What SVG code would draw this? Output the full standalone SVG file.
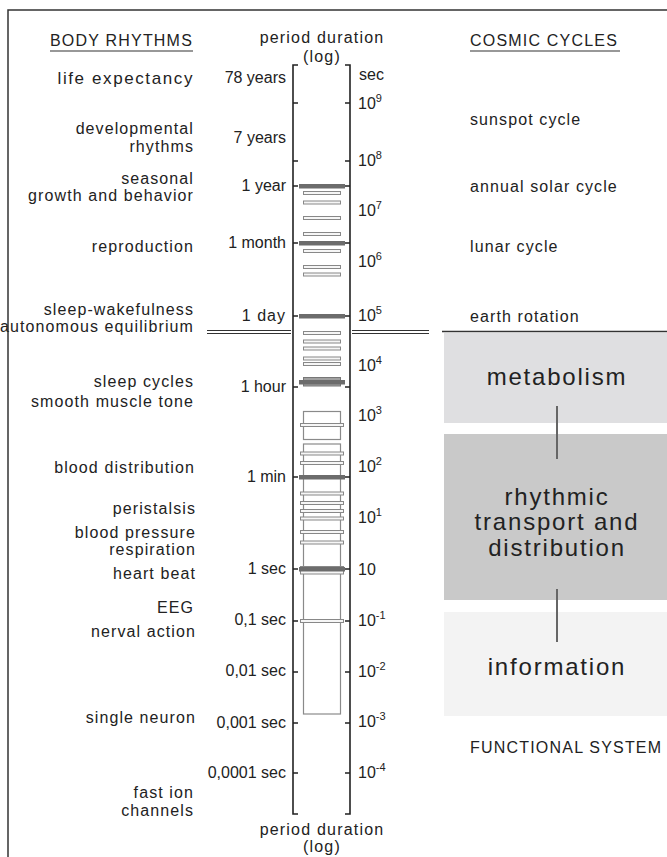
<svg xmlns="http://www.w3.org/2000/svg" width="667" height="857" viewBox="0 0 667 857">
  <style>
    text { font-family: "Liberation Sans", Arial, sans-serif; fill: #222; }
    .lbl { font-size: 16px; letter-spacing: 1.1px; }
    .lft { text-anchor: end; }
    .num { font-size: 16px; text-anchor: end; }
    .sc { font-size: 16px; }
    .sup { font-size: 11px; }
    .hdr { font-size: 16px; letter-spacing: 1.2px; }
    .big { font-size: 24px; letter-spacing: 1.8px; text-anchor: middle; }
    .frame { fill: none; stroke: #333; stroke-width: 1.5; }
    .axis { fill: none; stroke: #222; stroke-width: 1.6; }
    .bar { fill: #f6f6f6; stroke: #888; stroke-width: 1; }
    .dark { fill: #6c6c6c; stroke: none; }
    .col { fill: none; stroke: #8a8a8a; stroke-width: 1.2; }
    .dbl { stroke: #333; stroke-width: 1; }
    .conn { stroke: #666; stroke-width: 2; }
  </style>

  <rect width="667" height="857" fill="#fff"/>

  <!-- outer frame (top and left edges) -->
  <path class="frame" d="M8,857 V10 H667"/>

  <!-- headings -->
  <g id="headings">
    <text class="hdr" x="50" y="46">BODY RHYTHMS</text>
    <line x1="50" y1="51" x2="193" y2="51" stroke="#333" stroke-width="1.2"/>
    <text class="hdr" x="470" y="46">COSMIC CYCLES</text>
    <line x1="470" y1="51" x2="620" y2="51" stroke="#333" stroke-width="1.2"/>
    <text class="hdr" x="322" y="43" text-anchor="middle">period duration</text>
    <text class="hdr" x="322" y="62" text-anchor="middle">(log)</text>
    <text class="hdr" x="322" y="835" text-anchor="middle">period duration</text>
    <text class="hdr" x="322" y="852" text-anchor="middle">(log)</text>
  </g>

  <!-- logarithmic period axis -->
  <g id="axis">
    <path class="axis" d="M298,65 H293 V814 H298"/>
    <path class="axis" d="M345,65 H350 V814 H345"/>
    <path class="axis" d="M293,103 h5 M293,161 h5 M293,186 h5 M293,243 h5 M293,316 h5 M293,387 h5 M293,477 h5 M293,569 h5 M293,621 h5 M293,672 h5 M293,723 h5 M293,773 h5"/>
    <path class="axis" d="M345,103 h5 M345,161 h5 M345,186 h5 M345,243 h5 M345,316 h5 M345,387 h5 M345,477 h5 M345,569 h5 M345,621 h5 M345,672 h5 M345,723 h5 M345,773 h5"/>
  </g>

  <!-- rhythm bands along the axis -->
  <g id="bands">
    <rect class="col" x="303.5" y="411.5" width="37" height="28"/>
    <rect class="col" x="303.5" y="444" width="37" height="270"/>
    <!-- narrow bars, long periods -->
    <rect class="bar" x="303.5" y="191.5" width="37" height="3"/>
    <rect class="bar" x="303.5" y="201" width="37" height="3"/>
    <rect class="bar" x="303.5" y="216.5" width="37" height="3"/>
    <rect class="bar" x="303.5" y="232.5" width="37" height="3"/>
    <rect class="bar" x="303.5" y="249.5" width="37" height="3"/>
    <rect class="bar" x="303.5" y="265.5" width="37" height="3"/>
    <rect class="bar" x="303.5" y="273" width="37" height="3"/>
    <rect class="bar" x="303.5" y="331.5" width="37" height="3"/>
    <rect class="bar" x="303.5" y="340" width="37" height="3"/>
    <rect class="bar" x="303.5" y="347" width="37" height="3"/>
    <rect class="bar" x="303.5" y="357" width="37" height="3"/>
    <rect class="bar" x="303.5" y="362.5" width="37" height="3"/>
    <!-- wide bars, short periods -->
    <rect class="bar" x="300.5" y="423.5" width="43" height="3"/>
    <rect class="bar" x="300.5" y="452" width="43" height="3"/>
    <rect class="bar" x="300.5" y="461.5" width="43" height="3"/>
    <rect class="bar" x="300.5" y="492" width="43" height="3"/>
    <rect class="bar" x="300.5" y="501.5" width="43" height="3"/>
    <rect class="bar" x="300.5" y="509.5" width="43" height="3"/>
    <rect class="bar" x="300.5" y="517" width="43" height="3"/>
    <rect class="bar" x="300.5" y="530.5" width="43" height="3"/>
    <rect class="bar" x="300.5" y="541" width="43" height="3"/>
    <rect class="bar" x="300.5" y="619.5" width="43" height="3"/>
    <!-- 1 hour band -->
    <rect x="303.5" y="377.5" width="37" height="8.5" fill="#a0a0a0" stroke="#777" stroke-width="1"/>
    <!-- 1 sec band -->
    <rect class="bar" x="300.5" y="566.5" width="43" height="7.5"/>
    <!-- dominant rhythms -->
    <rect class="dark" x="299" y="184" width="46" height="4.5"/>
    <rect class="dark" x="299" y="241" width="46" height="4.5"/>
    <rect class="dark" x="299" y="314" width="46" height="4.5"/>
    <rect class="dark" x="299" y="380" width="46" height="4.5"/>
    <rect class="dark" x="299" y="475" width="46" height="4.5"/>
    <rect class="dark" x="299" y="567" width="46" height="4.5"/>
  </g>

  <!-- period labels -->
  <g id="periods">
    <text class="num" x="286" y="83">78 years</text>
    <text class="num" x="286" y="143">7 years</text>
    <text class="num" x="286" y="191">1 year</text>
    <text class="num" x="286" y="248">1 month</text>
    <text class="num" x="286" y="321" style="letter-spacing:1px">1 day</text>
    <text class="num" x="286" y="392">1 hour</text>
    <text class="num" x="286" y="482">1 min</text>
    <text class="num" x="286" y="574">1 sec</text>
    <text class="num" x="286" y="625">0,1 sec</text>
    <text class="num" x="286" y="676">0,01 sec</text>
    <text class="num" x="286" y="728">0,001 sec</text>
    <text class="num" x="286" y="778">0,0001 sec</text>
  </g>

  <!-- seconds scale -->
  <g id="seconds">
    <text class="sc" x="359" y="80">sec</text>
    <text class="sc" x="358" y="109">10<tspan class="sup" dy="-7">9</tspan></text>
    <text class="sc" x="358" y="166">10<tspan class="sup" dy="-7">8</tspan></text>
    <text class="sc" x="358" y="216">10<tspan class="sup" dy="-7">7</tspan></text>
    <text class="sc" x="358" y="267">10<tspan class="sup" dy="-7">6</tspan></text>
    <text class="sc" x="358" y="321">10<tspan class="sup" dy="-7">5</tspan></text>
    <text class="sc" x="358" y="371">10<tspan class="sup" dy="-7">4</tspan></text>
    <text class="sc" x="358" y="421">10<tspan class="sup" dy="-7">3</tspan></text>
    <text class="sc" x="358" y="472">10<tspan class="sup" dy="-7">2</tspan></text>
    <text class="sc" x="358" y="523">10<tspan class="sup" dy="-7">1</tspan></text>
    <text class="sc" x="358" y="575">10</text>
    <text class="sc" x="358" y="626">10<tspan class="sup" dy="-7">-1</tspan></text>
    <text class="sc" x="358" y="677">10<tspan class="sup" dy="-7">-2</tspan></text>
    <text class="sc" x="358" y="727">10<tspan class="sup" dy="-7">-3</tspan></text>
    <text class="sc" x="358" y="778">10<tspan class="sup" dy="-7">-4</tspan></text>
  </g>

  <!-- body rhythms -->
  <g id="body-rhythms">
    <text class="lbl lft" x="194" y="84" style="font-size:17px;letter-spacing:1.6px">life expectancy</text>
    <text class="lbl lft" x="194" y="134">developmental</text>
    <text class="lbl lft" x="194" y="152">rhythms</text>
    <text class="lbl lft" x="194" y="184">seasonal</text>
    <text class="lbl lft" x="194" y="201">growth and behavior</text>
    <text class="lbl lft" x="194" y="252">reproduction</text>
    <text class="lbl lft" x="194" y="315">sleep-wakefulness</text>
    <text class="lbl lft" x="194" y="332">autonomous equilibrium</text>
    <text class="lbl lft" x="194" y="387">sleep cycles</text>
    <text class="lbl lft" x="194" y="407">smooth muscle tone</text>
    <text class="lbl lft" x="195" y="473">blood distribution</text>
    <text class="lbl lft" x="196" y="514">peristalsis</text>
    <text class="lbl lft" x="196" y="538">blood pressure</text>
    <text class="lbl lft" x="196" y="555">respiration</text>
    <text class="lbl lft" x="196" y="579">heart beat</text>
    <text class="lbl lft" x="194" y="613">EEG</text>
    <text class="lbl lft" x="196" y="637">nerval action</text>
    <text class="lbl lft" x="196" y="723">single neuron</text>
    <text class="lbl lft" x="194" y="798">fast ion</text>
    <text class="lbl lft" x="194" y="816">channels</text>
  </g>

  <!-- cosmic cycles -->
  <g id="cosmic-cycles">
    <text class="lbl" x="470" y="125">sunspot cycle</text>
    <text class="lbl" x="470" y="192">annual solar cycle</text>
    <text class="lbl" x="470" y="252">lunar cycle</text>
    <text class="lbl" x="470" y="322">earth rotation</text>
  </g>

  <!-- day boundary -->
  <g id="day-boundary">
    <path class="dbl" d="M207,330.5 H291 M207,333.5 H291 M352,330.5 H429 M352,333.5 H429"/>
    <line x1="442" y1="331.5" x2="667" y2="331.5" stroke="#333" stroke-width="1.5"/>
  </g>

  <!-- functional systems -->
  <g id="metabolism">
    <rect x="444" y="333" width="223" height="90" fill="#dfdfe1"/>
    <text class="big" x="557" y="385">metabolism</text>
  </g>
  <g id="transport">
    <rect x="444" y="434" width="223" height="166" fill="#c9c9c9"/>
    <text class="big" x="557" y="505">rhythmic</text>
    <text class="big" x="557" y="530">transport and</text>
    <text class="big" x="557" y="556">distribution</text>
  </g>
  <g id="information">
    <rect x="444" y="612" width="223" height="104" fill="#f3f3f3"/>
    <text class="big" x="557" y="675">information</text>
  </g>
  <g id="connectors">
    <line class="conn" x1="557" y1="406" x2="557" y2="459"/>
    <line class="conn" x1="557" y1="589" x2="557" y2="642"/>
  </g>
  <text class="hdr" x="470" y="753">FUNCTIONAL SYSTEM</text>
</svg>
